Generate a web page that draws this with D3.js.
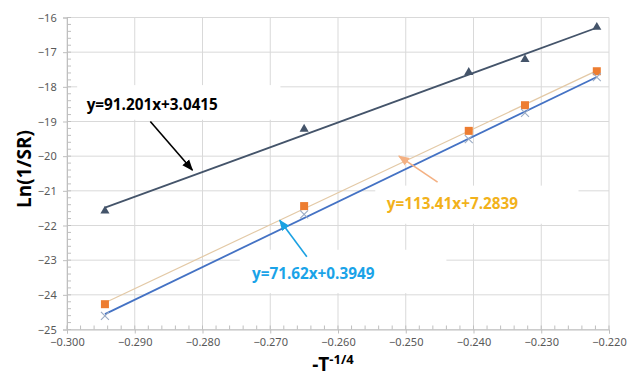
<!DOCTYPE html>
<html>
<head>
<meta charset="utf-8">
<script src="https://cdn.jsdelivr.net/npm/d3@7"></script>
<style>
  body { margin: 0; background: #fff; }
  svg { display: block; }
</style>
</head>
<body>
<div id="chart"></div>
<script>
// Data
const xValues = [-0.2944, -0.2650, -0.2407, -0.2324, -0.2218];
const triangleValues = [-21.58, -19.22, -17.58, -17.21, -16.28];
const squareValues = [-24.27, -21.44, -19.27, -18.53, -17.55];
const crossValues = [-24.61, -21.68, -19.51, -18.75, -17.72];
const xTicks = [-0.300, -0.290, -0.280, -0.270, -0.260, -0.250, -0.240, -0.230, -0.220];
const yTicks = [-16, -17, -18, -19, -20, -21, -22, -23, -24, -25];
const equations = ["y=91.201x+3.0415", "y=113.41x+7.2839", "y=71.62x+0.3949"];

const W = 627, H = 377;
const margin = {top: 17.5, right: 18, bottom: 47.5, left: 67};
const width = W - margin.left - margin.right;
const height = H - margin.top - margin.bottom;

const svg = d3.select("#chart").append("svg")
    .attr("width", W)
    .attr("height", H);

const g = svg.append("g")
    .attr("transform", `translate(${margin.left},${margin.top})`);

const x = d3.scaleLinear().domain([-0.300, -0.220]).range([0, width]);
const y = d3.scaleLinear().domain([-25, -16]).range([height, 0]);

// Rejilla
g.selectAll(".vgrid").data(xTicks).enter().append("line")
    .attr("x1", d => x(d)).attr("x2", d => x(d))
    .attr("y1", 0).attr("y2", height)
    .attr("stroke", "#d9d9d9").attr("stroke-width", 1);
g.selectAll(".hgrid").data(yTicks).enter().append("line")
    .attr("x1", 0).attr("x2", width)
    .attr("y1", d => y(d)).attr("y2", d => y(d))
    .attr("stroke", "#d9d9d9").attr("stroke-width", 1);

// Marcas menores
const xMinor = d3.range(0, 41).map(i => -0.300 + i * 0.002);
const yMinor = d3.range(0, 46).map(i => -25 + i * 0.2);
g.selectAll(".xminor").data(xMinor).enter().append("line")
    .attr("x1", d => x(d)).attr("x2", d => x(d))
    .attr("y1", height).attr("y2", height - 4)
    .attr("stroke", "#bfbfbf");
g.selectAll(".yminor").data(yMinor).enter().append("line")
    .attr("x1", 0).attr("x2", 4)
    .attr("y1", d => y(d)).attr("y2", d => y(d))
    .attr("stroke", "#bfbfbf");

// Ejes
const xAxis = g.append("g")
    .attr("transform", `translate(0,${height})`)
    .call(d3.axisBottom(x).tickValues(xTicks).tickFormat(d3.format(".3f")).tickSize(4));
const yAxis = g.append("g")
    .call(d3.axisLeft(y).tickValues(yTicks).tickFormat(d3.format("d")).tickSize(4));
[xAxis, yAxis].forEach(a => {
    a.select(".domain").attr("stroke", "#bfbfbf");
    a.selectAll(".tick line").attr("stroke", "#bfbfbf");
    a.selectAll(".tick text")
        .attr("fill", "#595959")
        .style("font-family", "'Noto Sans', sans-serif")
        .style("font-size", "11px");
});
xAxis.selectAll(".tick text").attr("dy", "0.9em");
yAxis.selectAll(".tick text").attr("dx", "-0.3em");

// Cajas blancas de las etiquetas
const boxes = [
    {x0: -0.2985, x1: -0.2685, y0: -17.95, y1: -18.95},
    {x0: -0.2545, x1: -0.2245, y0: -20.85, y1: -21.95},
    {x0: -0.2745, x1: -0.2440, y0: -22.7, y1: -23.95}
];
g.selectAll(".box").data(boxes).enter().append("rect")
    .attr("x", d => x(d.x0)).attr("y", d => y(d.y0))
    .attr("width", d => x(d.x1) - x(d.x0))
    .attr("height", d => y(d.y1) - y(d.y0))
    .attr("fill", "#fff");

// Líneas de tendencia (mínimos cuadrados)
function fit(ys) {
    const mx = d3.mean(xValues), my = d3.mean(ys);
    const b = d3.sum(xValues, (v, i) => (v - mx) * (ys[i] - my)) / d3.sum(xValues, v => (v - mx) ** 2);
    return {m: b, c: my - b * mx};
}
const series = [
    {vals: triangleValues, line: "#44546a", lw: 1.8},
    {vals: squareValues, line: "#e3c9a6", lw: 1.2},
    {vals: crossValues, line: "#4472c4", lw: 1.8}
];
series.forEach(s => {
    const f = fit(s.vals);
    const x0 = xValues[0], x1 = xValues[xValues.length - 1];
    g.append("line")
        .attr("x1", x(x0)).attr("y1", y(f.m * x0 + f.c))
        .attr("x2", x(x1)).attr("y2", y(f.m * x1 + f.c))
        .attr("stroke", s.line).attr("stroke-width", s.lw);
});

// Marcadores
g.selectAll(".tri").data(xValues).enter().append("path")
    .attr("transform", (d, i) => `translate(${x(d)},${y(triangleValues[i])})`)
    .attr("d", d3.symbol(d3.symbolTriangle, 36))
    .attr("fill", "#44546a");
g.selectAll(".sq").data(xValues).enter().append("rect")
    .attr("x", d => x(d) - 4).attr("y", (d, i) => y(squareValues[i]) - 4)
    .attr("width", 8).attr("height", 8)
    .attr("fill", "#ed7d31");
g.selectAll(".cross").data(xValues).enter().append("path")
    .attr("transform", (d, i) => `translate(${x(d)},${y(crossValues[i])})`)
    .attr("d", "M-4,-4L4,4M-4,4L4,-4")
    .attr("stroke", "#9aabc4").attr("stroke-width", 1.1);

// Flechas
const defs = svg.append("defs");
function marker(id, color) {
    defs.append("marker")
        .attr("id", id).attr("viewBox", "0 0 10 10")
        .attr("refX", 9).attr("refY", 5)
        .attr("markerWidth", 7).attr("markerHeight", 7)
        .attr("orient", "auto")
        .append("path").attr("d", "M0,1L10,5L0,9Z").attr("fill", color);
}
marker("ah-black", "#000");
marker("ah-orange", "#f4b183");
marker("ah-blue", "#1ba1e2");

const arrows = [
    {from: [-0.2877, -19.0], to: [-0.2815, -20.4], color: "#000", id: "ah-black"},
    {from: [-0.2453, -20.75], to: [-0.2510, -20.0], color: "#f4b183", id: "ah-orange"},
    {from: [-0.2646, -22.9], to: [-0.2686, -21.85], color: "#1ba1e2", id: "ah-blue"}
];
arrows.forEach(a => {
    g.append("line")
        .attr("x1", x(a.from[0])).attr("y1", y(a.from[1]))
        .attr("x2", x(a.to[0])).attr("y2", y(a.to[1]))
        .attr("stroke", a.color).attr("stroke-width", 1.6)
        .attr("marker-end", `url(#${a.id})`);
});

// Ecuaciones
const labels = [
    {t: equations[0], x: -0.2971, y: -18.5, c: "#000"},
    {t: equations[1], x: -0.2528, y: -21.35, c: "#f2b21b"},
    {t: equations[2], x: -0.2727, y: -23.36, c: "#1aa3e8"}
];
labels.forEach(l => {
    g.append("text")
        .attr("x", x(l.x)).attr("y", y(l.y))
        .attr("dominant-baseline", "central")
        .attr("fill", l.c)
        .style("font-family", "'Open Sans', sans-serif")
        .style("font-weight", "bold")
        .style("font-size", "15.3px")
        .text(l.t);
});

// Títulos de los ejes
svg.append("text")
    .attr("transform", "translate(31,169) rotate(-90)")
    .attr("text-anchor", "middle")
    .style("font-family", "'Open Sans', sans-serif")
    .style("font-weight", "bold")
    .style("font-size", "19px")
    .text("Ln(1/SR)");

const xt = svg.append("text")
    .attr("x", 333).attr("y", 371)
    .attr("text-anchor", "middle")
    .style("font-family", "'Open Sans', sans-serif")
    .style("font-weight", "bold")
    .style("font-size", "19px");
xt.append("tspan").text("-T");
xt.append("tspan").attr("dy", -7).style("font-size", "13px").text("-1/4");
</script>
</body>
</html>
